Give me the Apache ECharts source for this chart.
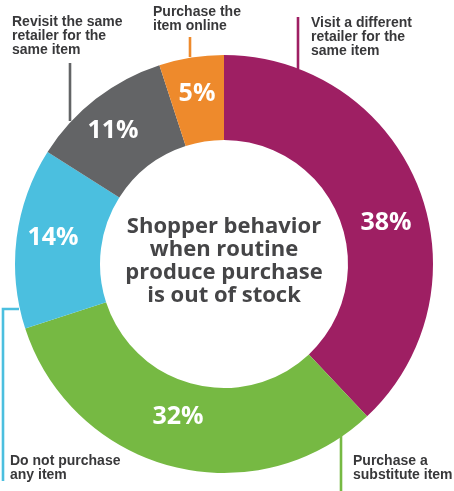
<!DOCTYPE html>
<html>
<head>
<meta charset="utf-8">
<script src="https://cdn.jsdelivr.net/npm/echarts@6/dist/echarts.min.js"></script>
<style>html,body{margin:0;padding:0;background:#fff;}#c{width:454px;height:491px;}</style>
</head>
<body>
<div id="c"></div>
<script>
// Data
const categories = ['Visit a different retailer for the same item', 'Purchase a substitute item', 'Do not purchase any item', 'Revisit the same retailer for the same item', 'Purchase the item online'];
const labelTexts = ['Visit a different\nretailer for the\nsame item', 'Purchase a\nsubstitute item', 'Do not purchase\nany item', 'Revisit the same\nretailer for the\nsame item', 'Purchase the\nitem online'];
const values = [38, 32, 14, 11, 5];
const colors = ['#9E1F63', '#76B943', '#4BBFDF', '#636466', '#EE8A2C'];
const centerTitle = 'Shopper behavior\nwhen routine\nproduce purchase\nis out of stock';

// Layout (annotation placement)
const CX = 224, CY = 264, R_IN = 124, R_OUT = 209;
const pctPos = [[386, 223], [178, 417], [53, 238], [113, 131], [197, 94]];
const outerLabelPos = [[311, 16], [353, 454], [10, 454], [12, 15], [153, 5]];
const leaderLines = [
  [[298, 17], [298, 40], [298, 69]],
  [[341, 436], [341, 460], [341, 491]],
  [[19, 309], [3, 309], [3, 481]],
  [[70, 63], [70, 90], [70, 121]],
  [[190, 37], [190, 45], [190, 57]]
];

const chart = echarts.init(document.getElementById('c'), null, {renderer: 'canvas'});
const mkData = () => categories.map((c, i) => ({name: c, value: values[i]}));

chart.setOption({
  animation: false,
  backgroundColor: '#fff',
  series: [
    {
      type: 'pie',
      silent: true,
      avoidLabelOverlap: false,
      center: [CX, CY],
      radius: [R_IN, R_OUT],
      startAngle: 90,
      clockwise: true,
      itemStyle: {color: 'rgba(0,0,0,0)'},
      data: mkData().map((d, i) => Object.assign(d, {
        labelLine: {lineStyle: {color: colors[i]}}
      })),
      label: {
        show: true,
        position: 'outside',
        overflow: 'none',
        width: 200,
        formatter: p => labelTexts[p.dataIndex],
        fontFamily: '"Liberation Sans", Arial, sans-serif',
        fontWeight: 'bold',
        fontSize: 14,
        lineHeight: 14,
        color: '#38383a'
      },
      labelLine: {show: true, lineStyle: {width: 2.6}},
      labelLayout: p => ({
        x: outerLabelPos[p.dataIndex][0],
        y: outerLabelPos[p.dataIndex][1],
        align: 'left',
        verticalAlign: 'top',
        hideOverlap: false,
        labelLinePoints: leaderLines[p.dataIndex]
      })
    },
    {
      type: 'pie',
      silent: true,
      avoidLabelOverlap: false,
      center: [CX, CY],
      radius: [R_IN, R_OUT],
      startAngle: 90,
      clockwise: true,
      data: mkData().map((d, i) => Object.assign(d, {itemStyle: {color: colors[i]}})),
      itemStyle: {borderWidth: 0},
      label: {
        show: true,
        position: 'inside',
        formatter: p => p.value + '%',
        fontFamily: '"Open Sans", sans-serif',
        fontWeight: 'bold',
        fontSize: 25,
        color: '#fff'
      },
      labelLine: {show: false},
      labelLayout: p => ({
        x: pctPos[p.dataIndex][0],
        y: pctPos[p.dataIndex][1],
        align: 'center',
        verticalAlign: 'middle'
      })
    }
  ],
  graphic: [{
    type: 'text',
    x: CX,
    y: 261,
    style: {
      text: centerTitle,
      align: 'center',
      verticalAlign: 'middle',
      fontFamily: '"Open Sans", sans-serif',
      fontWeight: 'bold',
      fontSize: 22,
      lineHeight: 23,
      fill: '#454547'
    }
  }]
});
</script>
</body>
</html>
